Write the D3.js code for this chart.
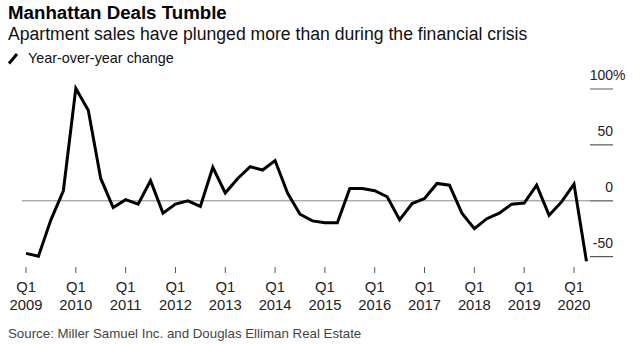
<!DOCTYPE html>
<html>
<head>
<meta charset="utf-8">
<script src="https://cdn.jsdelivr.net/npm/d3@7"></script>
<style>
  body { margin: 0; background: #fff; }
  text { font-family: "Liberation Sans", Arial, sans-serif; }
</style>
</head>
<body>
<div id="svgContainer"></div>
<script>
// quarterly year-over-year change, Q1 2009 .. Q2 2020
var quarters = [];
for (var yr = 2009; yr <= 2020; yr++) {
	for (var q = 1; q <= 4; q++) {
		if (yr == 2020 && q > 2) break;
		quarters.push("Q" + q + " " + yr);
	}
}
var yoyChange = [-47, -49.5, -17, 9,
	100.5, 81, 20, -6,
	1, -3, 18, -11,
	-3, 0, -5, 30,
	7, 20, 30.5, 27.5,
	36, 7, -12, -18,
	-19.7, -19.7, 11, 11,
	9, 3.6, -17, -2.4,
	2, 15.5, 14, -11,
	-25, -16, -11, -3,
	-2, 14, -13, -1,
	15, -54];
var yTicks = [100, 50, 0, -50];
var xTickYears = ["2009", "2010", "2011", "2012", "2013", "2014", "2015", "2016", "2017", "2018", "2019", "2020"];

var width = 633, height = 345;

var svg = d3.select("#svgContainer").append("svg")
	.attr("width", width)
	.attr("height", height);

// scales
var x = d3.scaleLinear().domain([0, 44]).range([26, 574]);
var y = d3.scaleLinear().domain([-50, 100]).range([256.7, 89]);

// titles
svg.append("text")
	.attr("x", 8).attr("y", 19)
	.attr("font-size", 18.7)
	.attr("font-weight", "bold")
	.attr("fill", "#000")
	.text("Manhattan Deals Tumble");
svg.append("text")
	.attr("x", 8).attr("y", 40)
	.attr("font-size", 17.6)
	.attr("fill", "#111")
	.text("Apartment sales have plunged more than during the financial crisis");

// legend
svg.append("line")
	.attr("x1", 9).attr("y1", 63.5)
	.attr("x2", 17).attr("y2", 54)
	.attr("stroke", "#000")
	.attr("stroke-width", 3);
svg.append("text")
	.attr("x", 28).attr("y", 62.5)
	.attr("font-size", 14.4)
	.attr("fill", "#111")
	.text("Year-over-year change");

// y axis on the right: short rules with labels above them
yTicks.forEach(function(v) {
	svg.append("line")
		.attr("x1", 590).attr("x2", 613)
		.attr("y1", y(v)).attr("y2", y(v))
		.attr("stroke", v == 100 ? "#999" : "#333")
		.attr("stroke-width", v == 100 ? 1.6 : 1);
	if (v == 0) return;
	svg.append("text")
		.attr("x", 613).attr("y", y(v) - 9)
		.attr("font-size", 14)
		.attr("text-anchor", "end")
		.attr("fill", "#222")
		.text(v);
	if (v == 100) {
		svg.append("text")
			.attr("x", 613).attr("y", y(v) - 9)
			.attr("font-size", 14)
			.attr("fill", "#222")
			.text("%");
	}
});
svg.append("text")
	.attr("x", 613).attr("y", y(0) - 9)
	.attr("font-size", 14)
	.attr("text-anchor", "end")
	.attr("fill", "#222")
	.text("0");

// zero line across the plot
svg.append("line")
	.attr("x1", 22).attr("x2", 613)
	.attr("y1", y(0)).attr("y2", y(0))
	.attr("stroke", "#888")
	.attr("stroke-width", 1);

// x axis ticks at each Q1
xTickYears.forEach(function(yr, i) {
	var xi = x(i * 4);
	svg.append("line")
		.attr("x1", xi).attr("x2", xi)
		.attr("y1", 267).attr("y2", 273)
		.attr("stroke", "#555")
		.attr("stroke-width", 1);
	svg.append("text")
		.attr("x", xi).attr("y", 292)
		.attr("font-size", 14.8)
		.attr("text-anchor", "middle")
		.attr("fill", "#222")
		.text("Q1");
	svg.append("text")
		.attr("x", xi).attr("y", 309.5)
		.attr("font-size", 14.8)
		.attr("text-anchor", "middle")
		.attr("fill", "#222")
		.text(yr);
});

// the series line
var line = d3.line()
	.x(function(d, i) { return x(i); })
	.y(function(d) { return y(d); })
	.curve(d3.curveLinear);
svg.append("path")
	.attr("d", line(yoyChange))
	.attr("stroke", "#000")
	.attr("stroke-width", 3)
	.attr("stroke-linejoin", "miter")
	.attr("fill", "none");

// source
svg.append("text")
	.attr("x", 8).attr("y", 338)
	.attr("font-size", 13.3)
	.attr("fill", "#444")
	.text("Source: Miller Samuel Inc. and Douglas Elliman Real Estate");
</script>
</body>
</html>
